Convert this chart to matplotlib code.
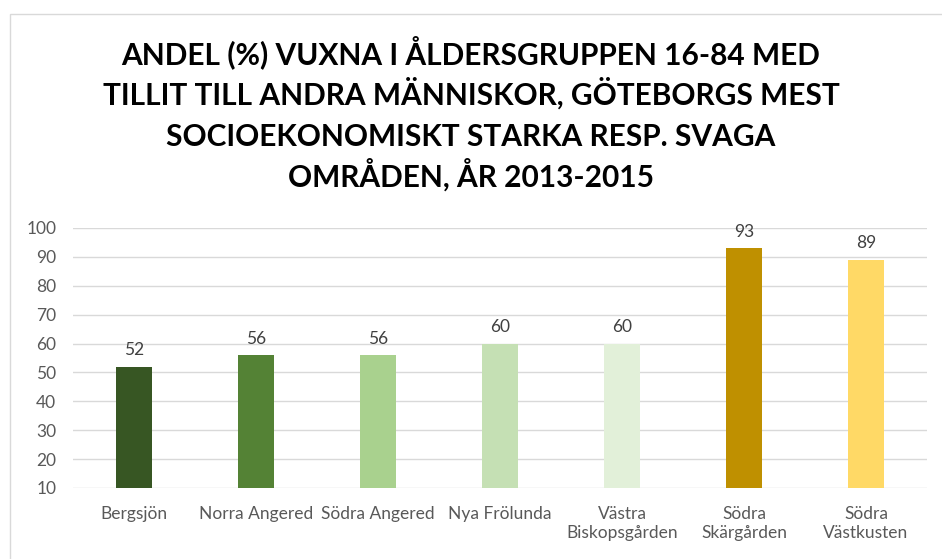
import matplotlib
matplotlib.use("Agg")
import matplotlib.pyplot as plt
from matplotlib.patches import Rectangle

omraden = ["Bergsjön", "Norra Angered", "Södra Angered", "Nya Frölunda",
           "Västra\nBiskopsgården", "Södra\nSkärgården", "Södra\nVästkusten"]
andel = [52, 56, 56, 60, 60, 93, 89]
farger = ["#375623", "#548235", "#A9D18E", "#C5E0B4", "#E2F0D9", "#BF9000", "#FFD966"]

titelrader = ["ANDEL (%) VUXNA I ÅLDERSGRUPPEN 16-84 MED",
              "TILLIT TILL ANDRA MÄNNISKOR, GÖTEBORGS MEST",
              "SOCIOEKONOMISKT STARKA RESP. SVAGA",
              "OMRÅDEN, ÅR 2013-2015"]

plt.rcParams["font.family"] = ["Lato", "DejaVu Sans"]

fig = plt.figure(figsize=(9.42, 5.59), dpi=100)
ax = fig.add_axes([73 / 942, 71 / 559, 854 / 942, 260 / 559])

x = range(len(omraden))
ax.bar(x, andel, width=0.30, color=farger, zorder=3)

for i, v in zip(x, andel):
    ax.annotate(str(v), (i, v), xytext=(0, 6), textcoords="offset points",
                ha="center", va="bottom", fontsize=12.5, color="#404040")

ax.set_ylim(10, 100)
ax.set_xlim(-0.5, len(omraden) - 0.5)
ax.set_yticks(range(10, 101, 10))
ax.set_xticks(list(x))
ax.set_xticklabels(omraden)
ax.tick_params(axis="both", length=0, labelsize=12.5, labelcolor="#595959")
ax.tick_params(axis="y", pad=12)
ax.tick_params(axis="x", pad=13)
ax.grid(axis="y", color="#D9D9D9", linewidth=1, zorder=0)
for s in ax.spines.values():
    s.set_visible(False)

# titeln rad för rad så att radavståndet blir jämnt
for n, rad in enumerate(titelrader):
    fig.text(0.5, 1 - (64 + 41 * n) / 559, rad, ha="center", va="baseline",
             fontsize=21.5, fontweight="bold", color="black")

# ram runt diagrammet
fig.patches.append(Rectangle((10 / 942, -0.1), 1.2, 1.1 - 14 / 559,
                             transform=fig.transFigure, fill=False,
                             edgecolor="#D9D9D9", linewidth=1))

fig.savefig("out.png", dpi=100)
